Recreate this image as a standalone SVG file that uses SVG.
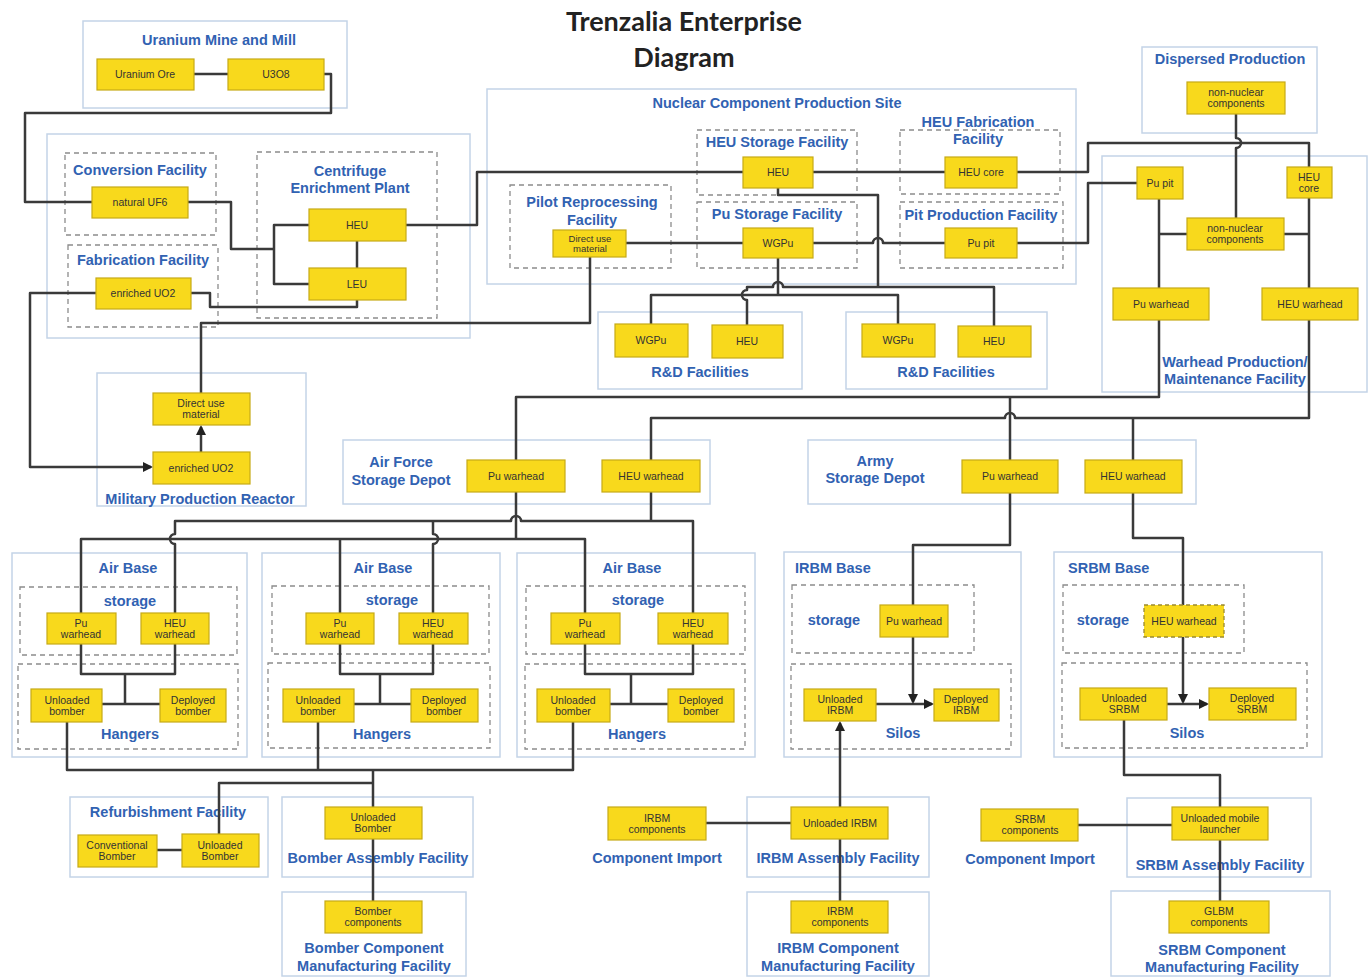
<svg xmlns="http://www.w3.org/2000/svg" width="1370" height="978" viewBox="0 0 1370 978">
<style>
.c{fill:#fff;stroke:#c4d4e7;stroke-width:1.5}
.d{fill:none;stroke:#8c8c8c;stroke-width:1.3;stroke-dasharray:5 4}
.n{fill:#f8d91c;stroke:#c6aa16;stroke-width:1.2}
.nd{fill:#f8d91c;stroke:#9a8a30;stroke-width:1.3;stroke-dasharray:4 3}
.t{font-family:"Liberation Sans",Arial,sans-serif;font-weight:bold;font-size:14.5px;fill:#3162b2;text-anchor:middle}
.ts{font-family:"Liberation Sans",Arial,sans-serif;font-weight:bold;font-size:14.5px;fill:#3162b2}
.nt{font-family:"Liberation Sans",Arial,sans-serif;font-size:10.5px;fill:#333;text-anchor:middle}
.ns{font-family:"Liberation Sans",Arial,sans-serif;font-size:9.5px;fill:#333;text-anchor:middle}
.w{fill:none;stroke:#3a3a3a;stroke-width:2.5;stroke-linejoin:round}
.title{font-family:Lato,"Liberation Sans",sans-serif;font-weight:bold;font-size:27px;fill:#222;text-anchor:middle}
</style>
<defs>
<marker id="ah" viewBox="0 0 10 10" refX="8" refY="5" markerWidth="10" markerHeight="10" markerUnits="userSpaceOnUse" orient="auto"><path d="M0,0 L10,5 L0,10 z" fill="#222"/></marker>
</defs>
<rect width="1370" height="978" fill="#fff"/>
<g id="title"><text x="684" y="31" class="title">Trenzalia Enterprise</text><text x="684" y="67" class="title">Diagram</text></g>

<!-- containers -->
<g id="uranium-mine"><rect class="c" x="83" y="21" width="264" height="87"/><text class="t" x="219" y="45">Uranium Mine and Mill</text></g>
<g id="conversion-enrichment"><rect class="c" x="47" y="134" width="423" height="204"/>
<rect class="d" x="65" y="153" width="151" height="82"/><text class="t" x="140" y="175">Conversion Facility</text>
<rect class="d" x="68" y="245" width="150" height="82"/><text class="t" x="143" y="265">Fabrication Facility</text>
<rect class="d" x="257" y="152" width="180" height="166"/><text class="t" x="350" y="176">Centrifuge</text><text class="t" x="350" y="193">Enrichment Plant</text></g>
<g id="military-reactor"><rect class="c" x="97" y="373" width="209" height="133"/><text class="t" x="200" y="504">Military Production Reactor</text></g>
<g id="nuclear-site"><rect class="c" x="487" y="89" width="589" height="195"/><text class="t" x="777" y="108">Nuclear Component Production Site</text>
<rect class="d" x="697" y="130" width="160" height="65"/><text class="t" x="777" y="147">HEU Storage Facility</text>
<rect class="d" x="697" y="202" width="160" height="66"/><text class="t" x="777" y="219">Pu Storage Facility</text>
<rect class="d" x="510" y="185" width="161" height="83"/><text class="t" x="592" y="207">Pilot Reprocessing</text><text class="t" x="592" y="225">Facility</text>
<rect class="d" x="900" y="130" width="160" height="64"/><text class="t" x="978" y="127">HEU Fabrication</text><text class="t" x="978" y="144">Facility</text>
<rect class="d" x="900" y="202" width="163" height="66"/><text class="t" x="981" y="220">Pit Production Facility</text></g>
<g id="dispersed"><rect class="c" x="1142" y="47" width="175" height="86"/><text class="t" x="1230" y="64">Dispersed Production</text></g>
<g id="warhead-facility"><rect class="c" x="1102" y="156" width="265" height="236"/><text class="t" x="1235" y="367">Warhead Production/</text><text class="t" x="1235" y="384">Maintenance Facility</text></g>
<g id="rd1"><rect class="c" x="598" y="312" width="204" height="77"/><text class="t" x="700" y="377">R&amp;D Facilities</text></g>
<g id="rd2"><rect class="c" x="846" y="312" width="201" height="77"/><text class="t" x="946" y="377">R&amp;D Facilities</text></g>
<g id="af-depot"><rect class="c" x="343" y="440" width="367" height="64"/><text class="t" x="401" y="467">Air Force</text><text class="t" x="401" y="485">Storage Depot</text></g>
<g id="army-depot"><rect class="c" x="808" y="440" width="388" height="64"/><text class="t" x="875" y="466">Army</text><text class="t" x="875" y="483">Storage Depot</text></g>
<g id="airbase1"><rect class="c" x="12" y="553" width="235" height="204"/><text class="t" x="128" y="573">Air Base</text>
<rect class="d" x="20" y="587" width="217" height="68"/><text class="t" x="130" y="606">storage</text>
<rect class="d" x="18" y="664" width="220" height="85"/><text class="t" x="130" y="739">Hangers</text></g>
<g id="airbase2"><rect class="c" x="262" y="553" width="238" height="204"/><text class="t" x="383" y="573">Air Base</text>
<rect class="d" x="272" y="586" width="217" height="68"/><text class="t" x="392" y="605">storage</text>
<rect class="d" x="268" y="663" width="222" height="85"/><text class="t" x="382" y="739">Hangers</text></g>
<g id="airbase3"><rect class="c" x="517" y="553" width="238" height="204"/><text class="t" x="632" y="573">Air Base</text>
<rect class="d" x="526" y="586" width="219" height="68"/><text class="t" x="638" y="605">storage</text>
<rect class="d" x="525" y="664" width="220" height="85"/><text class="t" x="637" y="739">Hangers</text></g>
<g id="irbm-base"><rect class="c" x="784" y="552" width="237" height="205"/><text class="ts" x="795" y="573">IRBM Base</text>
<rect class="d" x="792" y="585" width="182" height="68"/><text class="t" x="834" y="625">storage</text>
<rect class="d" x="791" y="664" width="220" height="85"/><text class="t" x="903" y="738">Silos</text></g>
<g id="srbm-base"><rect class="c" x="1054" y="552" width="268" height="205"/><text class="ts" x="1068" y="573">SRBM Base</text>
<rect class="d" x="1063" y="585" width="181" height="68"/><text class="t" x="1103" y="625">storage</text>
<rect class="d" x="1062" y="663" width="245" height="85"/><text class="t" x="1187" y="738">Silos</text></g>
<g id="refurb"><rect class="c" x="70" y="797" width="198" height="80"/><text class="t" x="168" y="817">Refurbishment Facility</text></g>
<g id="bomber-assembly"><rect class="c" x="282" y="797" width="191" height="80"/><text class="t" x="378" y="863">Bomber Assembly Facility</text></g>
<g id="bomber-mfg"><rect class="c" x="282" y="892" width="184" height="84"/><text class="t" x="374" y="953">Bomber Component</text><text class="t" x="374" y="971">Manufacturing Facility</text></g>
<g id="irbm-import"><text class="t" x="657" y="863">Component Import</text></g>
<g id="irbm-assembly"><rect class="c" x="747" y="797" width="182" height="80"/><text class="t" x="838" y="863">IRBM Assembly Facility</text></g>
<g id="irbm-mfg"><rect class="c" x="747" y="892" width="182" height="84"/><text class="t" x="838" y="953">IRBM Component</text><text class="t" x="838" y="971">Manufacturing Facility</text></g>
<g id="srbm-import"><text class="t" x="1030" y="864">Component Import</text></g>
<g id="srbm-assembly"><rect class="c" x="1127" y="798" width="184" height="79"/><text class="t" x="1220" y="870">SRBM Assembly Facility</text></g>
<g id="srbm-mfg"><rect class="c" x="1111" y="891" width="219" height="85"/><text class="t" x="1222" y="955">SRBM Component</text><text class="t" x="1222" y="972">Manufacturing Facility</text></g>

<!-- connectors -->
<g id="connectors" class="w">
<path d="M194,74 H228"/>
<path d="M324,74 H331 V113 H25 V202 H92"/>
<path d="M188,202 H231 V249 H274"/>
<path d="M309,225 H274 V284 H309"/>
<path d="M357,241 V268"/>
<path d="M357,300 V307 H210 V293 H191"/>
<path d="M96,293 H30 V467 H151" marker-end="url(#ah)"/>
<path d="M201,452 V427" marker-end="url(#ah)"/>
<path d="M201,393 V323 H590 V257"/>
<path d="M406,225 H477 V172 H743"/>
<path d="M813,172 H945"/>
<path d="M1017,172 H1088 V143 H1309 V167"/>
<path d="M1236,114 V138 a5,5 0 0 1 0,10 V218"/>
<path d="M626,243 H743"/>
<path d="M813,243 H873 a5,5 0 0 1 10,0 H945"/>
<path d="M1017,243 H1088 V183 H1137"/>
<path d="M778,188 V195 H878 V287"/>
<path d="M747,325 V300 a5,5 0 0 1 0,-10 V287 H773 a5,5 0 0 1 10,0 H994 V326"/>
<path d="M778,258 V295 M651,324 V295 H898 V324"/>
<path d="M1159,199 V288"/>
<path d="M1187,234 H1159 M1284,234 H1309"/>
<path d="M1309,198 V288"/>
<path d="M1159,320 V397 H516 V460"/>
<path d="M1309,320 V418 H1015 a5,5 0 0 0 -10,0 H651 V460"/>
<path d="M1010,397 V460"/>
<path d="M1133,418 V460"/>
<path d="M516,492 V539"/>
<path d="M81,613 V539 H585 V613 M340,539 V613"/>
<path d="M651,492 V521"/>
<path d="M175,613 V544 a5,5 0 0 1 0,-10 V521 H511 a5,5 0 0 1 10,0 H693 V613"/>
<path d="M433,521 V534 a5,5 0 0 1 0,10 V613"/>
<path d="M81,644 V674 H175 V644 M125,674 V704 M102,704 H160"/>
<path d="M340,644 V674 H433 V644 M380,674 V704 M354,704 H411"/>
<path d="M585,644 V674 H693 V644 M631,674 V704 M610,704 H668"/>
<path d="M67,722 V770 H573 V722 M318,722 V770 M373,770 V807 M373,783 H219 V834 M373,839 V901"/>
<path d="M157,850 H182"/>
<path d="M1010,493 V545 H913 V605"/>
<path d="M1133,493 V538 H1183 V605"/>
<path d="M876,704 H932" marker-end="url(#ah)"/>
<path d="M913,637 V702" marker-end="url(#ah)"/>
<path d="M840,807 V723" marker-end="url(#ah)"/>
<path d="M840,839 V901"/>
<path d="M706,823 H791"/>
<path d="M1167,704 H1207" marker-end="url(#ah)"/>
<path d="M1183,637 V702" marker-end="url(#ah)"/>
<path d="M1124,720 V775 H1220 V807"/>
<path d="M1220,840 V901"/>
<path d="M1078,825 H1172"/>
</g>

<!-- nodes -->
<g id="n-uranium-ore"><rect class="n" x="97" y="59" width="97" height="31"/><text class="nt" x="145" y="78">Uranium Ore</text></g>
<g id="n-u3o8"><rect class="n" x="228" y="59" width="96" height="31"/><text class="nt" x="276" y="78">U3O8</text></g>
<g id="n-natural-uf6"><rect class="n" x="92" y="187" width="96" height="31"/><text class="nt" x="140" y="206">natural UF6</text></g>
<g id="n-enriched-uo2-fab"><rect class="n" x="96" y="278" width="95" height="31"/><text class="nt" x="143" y="297">enriched UO2</text></g>
<g id="n-heu-cep"><rect class="n" x="309" y="209" width="97" height="32"/><text class="nt" x="357" y="228.5">HEU</text></g>
<g id="n-leu"><rect class="n" x="309" y="268" width="97" height="32"/><text class="nt" x="357" y="287.5">LEU</text></g>
<g id="n-direct-use-mpr"><rect class="n" x="153" y="393" width="97" height="32"/><text class="nt" x="201" y="407">Direct use</text><text class="nt" x="201" y="418">material</text></g>
<g id="n-enriched-uo2-mpr"><rect class="n" x="153" y="452" width="97" height="32"/><text class="nt" x="201" y="471.5">enriched UO2</text></g>
<g id="n-direct-use-pilot"><rect class="n" x="553" y="230" width="73" height="27"/><text class="ns" x="590" y="242">Direct use</text><text class="ns" x="590" y="252">material</text></g>
<g id="n-heu-storage"><rect class="n" x="743" y="157" width="70" height="31"/><text class="nt" x="778" y="176">HEU</text></g>
<g id="n-wgpu-storage"><rect class="n" x="743" y="228" width="70" height="30"/><text class="nt" x="778" y="246.5">WGPu</text></g>
<g id="n-heu-core-fab"><rect class="n" x="945" y="157" width="72" height="31"/><text class="nt" x="981" y="176">HEU core</text></g>
<g id="n-pu-pit-prod"><rect class="n" x="945" y="228" width="72" height="30"/><text class="nt" x="981" y="246.5">Pu pit</text></g>
<g id="n-nonnuclear-dispersed"><rect class="n" x="1187" y="82" width="98" height="32"/><text class="nt" x="1236" y="96">non-nuclear</text><text class="nt" x="1236" y="107">components</text></g>
<g id="n-pu-pit-wh"><rect class="n" x="1137" y="167" width="46" height="32"/><text class="nt" x="1160" y="186.5">Pu pit</text></g>
<g id="n-heu-core-wh"><rect class="n" x="1287" y="167" width="45" height="31"/><text class="nt" x="1309" y="180.5">HEU</text><text class="nt" x="1309" y="191.5">core</text></g>
<g id="n-nonnuclear-wh"><rect class="n" x="1187" y="218" width="97" height="32"/><text class="nt" x="1235" y="232">non-nuclear</text><text class="nt" x="1235" y="243">components</text></g>
<g id="n-pu-warhead-wh"><rect class="n" x="1113" y="288" width="96" height="32"/><text class="nt" x="1161" y="307.5">Pu warhead</text></g>
<g id="n-heu-warhead-wh"><rect class="n" x="1262" y="288" width="96" height="32"/><text class="nt" x="1310" y="307.5">HEU warhead</text></g>
<g id="n-wgpu-rd1"><rect class="n" x="615" y="324" width="73" height="33"/><text class="nt" x="651" y="344">WGPu</text></g>
<g id="n-heu-rd1"><rect class="n" x="712" y="325" width="71" height="33"/><text class="nt" x="747" y="345">HEU</text></g>
<g id="n-wgpu-rd2"><rect class="n" x="862" y="324" width="73" height="33"/><text class="nt" x="898" y="344">WGPu</text></g>
<g id="n-heu-rd2"><rect class="n" x="958" y="326" width="73" height="31"/><text class="nt" x="994" y="345">HEU</text></g>
<g id="n-pu-warhead-af"><rect class="n" x="467" y="460" width="98" height="32"/><text class="nt" x="516" y="479.5">Pu warhead</text></g>
<g id="n-heu-warhead-af"><rect class="n" x="602" y="460" width="98" height="32"/><text class="nt" x="651" y="479.5">HEU warhead</text></g>
<g id="n-pu-warhead-army"><rect class="n" x="962" y="460" width="96" height="33"/><text class="nt" x="1010" y="480">Pu warhead</text></g>
<g id="n-heu-warhead-army"><rect class="n" x="1085" y="460" width="97" height="33"/><text class="nt" x="1133" y="480">HEU warhead</text></g>
<g id="n-pu-warhead-ab1"><rect class="n" x="47" y="613" width="69" height="31"/><text class="nt" x="81" y="626.5">Pu</text><text class="nt" x="81" y="637.5">warhead</text></g>
<g id="n-heu-warhead-ab1"><rect class="n" x="141" y="613" width="68" height="31"/><text class="nt" x="175" y="626.5">HEU</text><text class="nt" x="175" y="637.5">warhead</text></g>
<g id="n-pu-warhead-ab2"><rect class="n" x="306" y="613" width="68" height="31"/><text class="nt" x="340" y="626.5">Pu</text><text class="nt" x="340" y="637.5">warhead</text></g>
<g id="n-heu-warhead-ab2"><rect class="n" x="399" y="613" width="69" height="31"/><text class="nt" x="433" y="626.5">HEU</text><text class="nt" x="433" y="637.5">warhead</text></g>
<g id="n-pu-warhead-ab3"><rect class="n" x="551" y="613" width="69" height="31"/><text class="nt" x="585" y="626.5">Pu</text><text class="nt" x="585" y="637.5">warhead</text></g>
<g id="n-heu-warhead-ab3"><rect class="n" x="658" y="613" width="70" height="31"/><text class="nt" x="693" y="626.5">HEU</text><text class="nt" x="693" y="637.5">warhead</text></g>
<g id="n-unloaded-bomber-ab1"><rect class="n" x="31" y="689" width="71" height="33"/><text class="nt" x="67" y="703.5">Unloaded</text><text class="nt" x="67" y="714.5">bomber</text></g>
<g id="n-deployed-bomber-ab1"><rect class="n" x="160" y="689" width="66" height="33"/><text class="nt" x="193" y="703.5">Deployed</text><text class="nt" x="193" y="714.5">bomber</text></g>
<g id="n-unloaded-bomber-ab2"><rect class="n" x="283" y="689" width="71" height="33"/><text class="nt" x="318" y="703.5">Unloaded</text><text class="nt" x="318" y="714.5">bomber</text></g>
<g id="n-deployed-bomber-ab2"><rect class="n" x="411" y="689" width="67" height="33"/><text class="nt" x="444" y="703.5">Deployed</text><text class="nt" x="444" y="714.5">bomber</text></g>
<g id="n-unloaded-bomber-ab3"><rect class="n" x="537" y="689" width="73" height="33"/><text class="nt" x="573" y="703.5">Unloaded</text><text class="nt" x="573" y="714.5">bomber</text></g>
<g id="n-deployed-bomber-ab3"><rect class="n" x="668" y="689" width="66" height="33"/><text class="nt" x="701" y="703.5">Deployed</text><text class="nt" x="701" y="714.5">bomber</text></g>
<g id="n-pu-warhead-irbm"><rect class="n" x="880" y="605" width="68" height="32"/><text class="nt" x="914" y="624.5">Pu warhead</text></g>
<g id="n-unloaded-irbm"><rect class="n" x="804" y="689" width="72" height="32"/><text class="nt" x="840" y="703">Unloaded</text><text class="nt" x="840" y="714">IRBM</text></g>
<g id="n-deployed-irbm"><rect class="n" x="934" y="689" width="65" height="32"/><text class="nt" x="966" y="703">Deployed</text><text class="nt" x="966" y="714">IRBM</text></g>
<g id="n-heu-warhead-srbm"><rect class="nd" x="1144" y="605" width="80" height="32"/><text class="nt" x="1184" y="624.5">HEU warhead</text></g>
<g id="n-unloaded-srbm"><rect class="n" x="1080" y="688" width="87" height="32"/><text class="nt" x="1124" y="702">Unloaded</text><text class="nt" x="1124" y="713">SRBM</text></g>
<g id="n-deployed-srbm"><rect class="n" x="1209" y="688" width="87" height="32"/><text class="nt" x="1252" y="702">Deployed</text><text class="nt" x="1252" y="713">SRBM</text></g>
<g id="n-conventional-bomber"><rect class="n" x="78" y="835" width="79" height="32"/><text class="nt" x="117" y="849">Conventional</text><text class="nt" x="117" y="860">Bomber</text></g>
<g id="n-unloaded-bomber-refurb"><rect class="n" x="182" y="834" width="77" height="33"/><text class="nt" x="220" y="848.5">Unloaded</text><text class="nt" x="220" y="859.5">Bomber</text></g>
<g id="n-unloaded-bomber-assembly"><rect class="n" x="325" y="807" width="97" height="32"/><text class="nt" x="373" y="821">Unloaded</text><text class="nt" x="373" y="832">Bomber</text></g>
<g id="n-bomber-components"><rect class="n" x="325" y="901" width="97" height="32"/><text class="nt" x="373" y="915">Bomber</text><text class="nt" x="373" y="926">components</text></g>
<g id="n-irbm-components-import"><rect class="n" x="608" y="807" width="98" height="33"/><text class="nt" x="657" y="821.5">IRBM</text><text class="nt" x="657" y="832.5">components</text></g>
<g id="n-unloaded-irbm-assembly"><rect class="n" x="791" y="807" width="97" height="32"/><text class="nt" x="840" y="826.5">Unloaded IRBM</text></g>
<g id="n-irbm-components-mfg"><rect class="n" x="791" y="901" width="97" height="32"/><text class="nt" x="840" y="915">IRBM</text><text class="nt" x="840" y="926">components</text></g>
<g id="n-srbm-components-import"><rect class="n" x="981" y="809" width="97" height="32"/><text class="nt" x="1030" y="823">SRBM</text><text class="nt" x="1030" y="834">components</text></g>
<g id="n-unloaded-mobile-launcher"><rect class="n" x="1172" y="807" width="96" height="33"/><text class="nt" x="1220" y="821.5">Unloaded mobile</text><text class="nt" x="1220" y="832.5">launcher</text></g>
<g id="n-glbm-components"><rect class="n" x="1169" y="901" width="100" height="32"/><text class="nt" x="1219" y="915">GLBM</text><text class="nt" x="1219" y="926">components</text></g>
</svg>
